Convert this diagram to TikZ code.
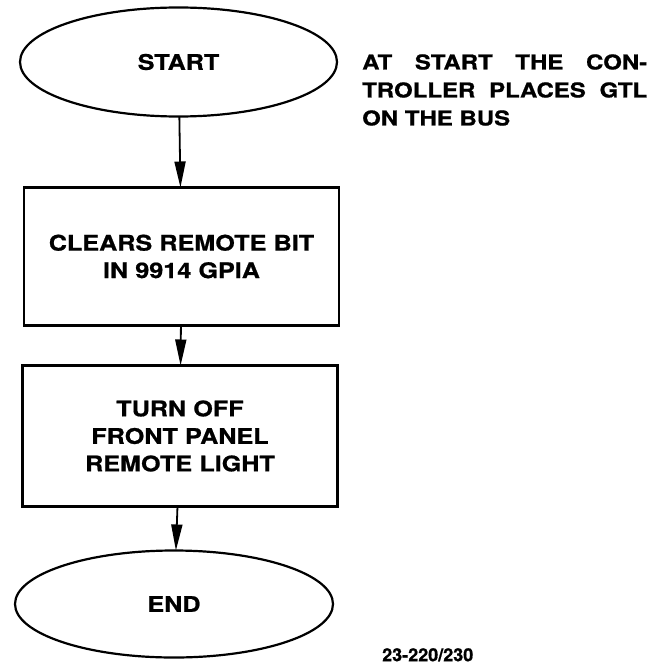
\documentclass[tikz,border=0pt]{standalone}
\usepackage{fontspec}
\setsansfont{TeX Gyre Heros}[FakeStretch=1.17, FakeBold=0.8]
\newfontfamily\figfont{TeX Gyre Heros}[FakeBold=0.8]
\usetikzlibrary{positioning,shapes.geometric,arrows.meta}

\begin{document}
\begin{tikzpicture}[node distance=1cm, auto, x=1pt, y=1pt]
	% Define styles for the flow chart
	\tikzset{
		oval/.style={
			ellipse,
			draw,
			line width=2.2pt,
			minimum width=317pt,
			minimum height=109pt,
			inner sep=0pt,
			outer sep=0pt,
			font=\sffamily\bfseries\fontsize{21.5}{27.5}\selectfont
		},
		box/.style={
			rectangle,
			draw,
			line width=2.2pt,
			minimum width=315pt,
			minimum height=138pt,
			text width=300pt,
			align=center,
			inner sep=0pt,
			outer sep=0pt,
			font=\sffamily\bfseries\fontsize{21.5}{27.5}\selectfont
		},
		flow/.style={-{Triangle[length=26pt,width=11pt]}, line width=1.8pt}
	}
	\useasboundingbox (0,0) rectangle (668,-666);
	
	% Nodes for the flow
	\node[oval] (startFlow) at (178.5,-62) {START};
	\node[box, below=71pt of startFlow, xshift=3pt] (clearsRemote) {CLEARS REMOTE BIT\\IN 9914 GPIA};
	\node[box, below=40pt of clearsRemote, xshift=-1.5pt, minimum height=141pt] (turnOff) {TURN OFF\\FRONT PANEL\\REMOTE LIGHT};
	\node[oval, below=44pt of turnOff, xshift=-6pt, minimum width=318pt, minimum height=107pt] (endFlow) {END};
	
	% Note beside the start
	\node[right=25pt of startFlow.east, yshift=-28pt, text width=285pt, align=justify, inner sep=0pt,
		font=\sffamily\bfseries\fontsize{20.5}{28}\selectfont] (noteStart) {AT START THE CON-\linebreak TROLLER PLACES GTL\linebreak ON THE BUS};
	
	% Figure number
	\node[below right=44pt and 49pt of endFlow.east, inner sep=0pt,
		font=\figfont\bfseries\fontsize{18}{20}\selectfont] (figLabel) {23-220/230};
	
	% Arrows between the steps
	\draw[flow] (startFlow) -- (clearsRemote);
	\draw[flow] (clearsRemote) -- (turnOff);
	\draw[flow] (turnOff) -- (endFlow);
\end{tikzpicture}
\end{document}
